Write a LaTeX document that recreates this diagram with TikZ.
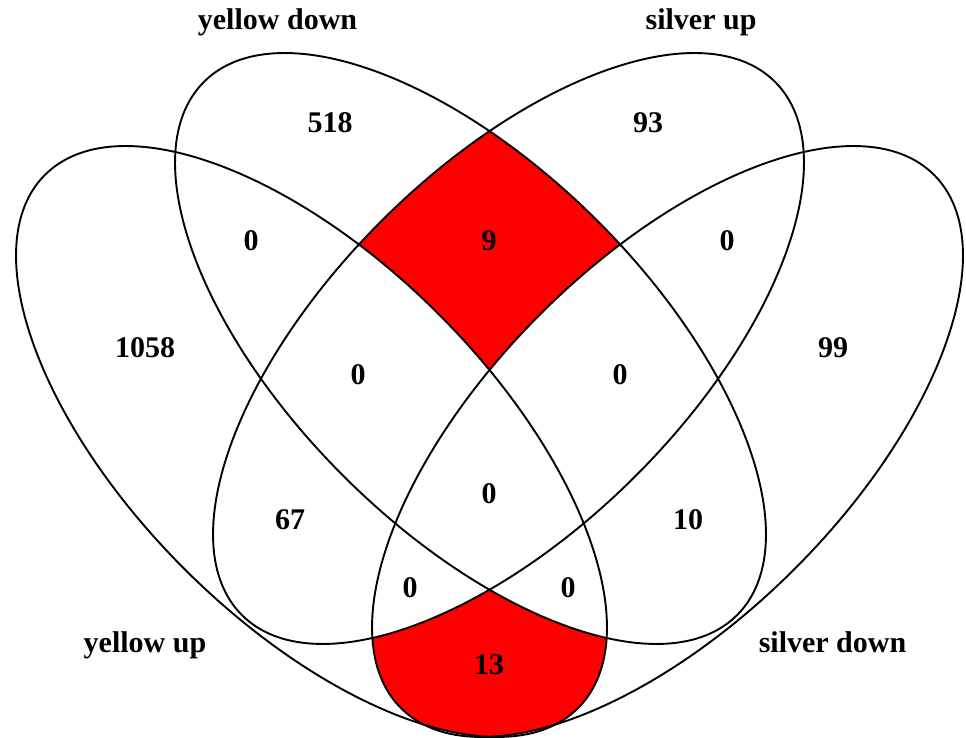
\documentclass[tikz,border=0pt]{standalone}
\usepackage{fontspec}
\setmainfont{Liberation Serif}
\newcommand\vennell{(0,0) ellipse [x radius=377, y radius=180]}
\begin{document}
\begin{tikzpicture}[x=1pt,y=1pt,
  eYU/.style={shift={(311.5,296.5)},rotate=-45},
  eYD/.style={shift={(470.5,389.5)},rotate=-45},
  eSU/.style={shift={(508.5,389.5)},rotate=45},
  eSD/.style={shift={(667.5,296.5)},rotate=45},
  setline/.style={line width=1.9pt, draw=black},
  lbl/.style={font=\fontsize{30}{36}\selectfont\bfseries, anchor=base, inner sep=0pt}]
\definecolor{vred}{RGB}{255,0,0}
\useasboundingbox (0,0) rectangle (966,738);
% red region: yellow down & silver up only
\begin{scope}
  \clip[eYD] \vennell;
  \clip[eSU] \vennell;
  \fill[vred] (0,0) rectangle (966,738);
  \fill[white,eYU] \vennell;
  \fill[white,eSD] \vennell;
\end{scope}
% red region: yellow up & silver down only
\begin{scope}
  \clip[eYU] \vennell;
  \clip[eSD] \vennell;
  \fill[vred] (0,0) rectangle (966,738);
  \fill[white,eYD] \vennell;
  \fill[white,eSU] \vennell;
\end{scope}
% outlines
\draw[setline,eYU] \vennell;
\draw[setline,eYD] \vennell;
\draw[setline,eSU] \vennell;
\draw[setline,eSD] \vennell;
% set labels
\node[lbl] (tYD) at (277.5,708.5) {yellow down};
\node[lbl] (tSU) at (701,708.5) {silver up};
\node[lbl] (tYU) at (145,85) {yellow up};
\node[lbl] (tSD) at (832.5,85) {silver down};
% counts
\node[lbl] (n518) at (330,605) {518};
\node[lbl] (n93) at (648,605) {93};
\node[lbl] (nA) at (251,487) {0};
\node[lbl] (n9) at (489,487) {9};
\node[lbl] (nB) at (727,487) {0};
\node[lbl] (n1058) at (145,380) {1058};
\node[lbl] (n99) at (833,380) {99};
\node[lbl] (nC) at (358,353) {0};
\node[lbl] (nD) at (620,353) {0};
\node[lbl] (nE) at (489,234) {0};
\node[lbl] (n67) at (290,208) {67};
\node[lbl] (n10) at (688,208) {10};
\node[lbl] (nF) at (410,140) {0};
\node[lbl] (nG) at (568,140) {0};
\node[lbl] (n13) at (489,63) {13};
\end{tikzpicture}
\end{document}
